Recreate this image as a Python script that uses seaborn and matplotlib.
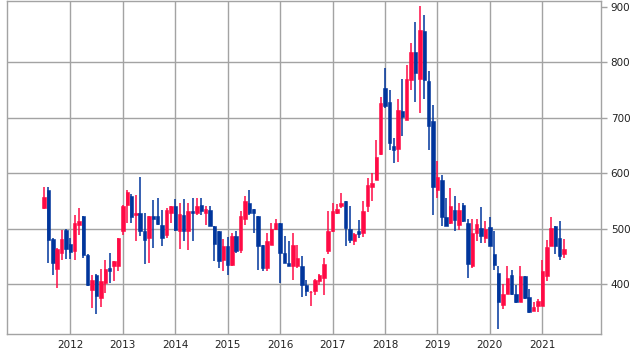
import matplotlib
matplotlib.use("Agg")
import matplotlib.pyplot as plt
import matplotlib.dates as mdates
import numpy as np
import pandas as pd
import seaborn as sns

# ---- data (monthly candles, Jul 2011 .. Jun 2021) ----
start_month = "2011-07-01"
n_months = 120

opens = [537, 570, 481, 427, 457, 498, 472, 459, 507, 522, 453, 390,
         417, 375, 402, 430, 432, 433, 496, 543, 558, 525, 528, 496,
         484, 522, 522, 507, 489, 529, 541, 496, 525, 495, 531, 528,
         543, 528, 534, 504, 495, 444, 469, 435, 487, 462, 517, 547,
         535, 522, 471, 429, 471, 499, 510, 457, 438, 432, 432, 432,
         399, 385, 388, 406, 412, 459, 496, 529, 540, 550, 499, 478,
         495, 492, 541, 576, 588, 635, 753, 729, 649, 644, 712, 696,
         768, 819, 770, 856, 767, 694, 570, 588, 521, 511, 534, 507,
         543, 511, 433, 493, 501, 483, 503, 454, 420, 363, 382, 417,
         382, 368, 414, 377, 352, 360, 361, 415, 469, 504, 483, 454]
highs = [576, 576, 483, 465, 498, 499, 483, 525, 537, 522, 454, 417,
         418, 427, 444, 457, 441, 483, 543, 570, 563, 561, 593, 528,
         522, 552, 555, 534, 537, 541, 553, 547, 553, 546, 555, 556,
         555, 541, 540, 504, 495, 481, 485, 492, 495, 531, 558, 569,
         535, 522, 471, 492, 510, 517, 510, 487, 477, 492, 471, 450,
         408, 387, 409, 418, 448, 532, 546, 545, 565, 550, 540, 492,
         516, 549, 591, 600, 659, 738, 789, 750, 664, 733, 769, 795,
         834, 873, 901, 885, 784, 723, 622, 597, 555, 573, 559, 546,
         546, 517, 517, 517, 539, 513, 521, 495, 432, 400, 433, 426,
         399, 433, 415, 391, 368, 373, 444, 480, 521, 504, 513, 481]
lows = [535, 439, 417, 393, 444, 445, 445, 444, 489, 447, 397, 357,
        346, 359, 384, 403, 405, 423, 489, 510, 510, 478, 487, 436,
        438, 465, 507, 468, 483, 511, 495, 463, 478, 462, 478, 525,
        525, 507, 504, 442, 429, 424, 417, 433, 456, 456, 507, 525,
        492, 426, 424, 424, 471, 498, 403, 438, 432, 408, 429, 377,
        378, 361, 381, 399, 381, 454, 494, 527, 537, 469, 474, 471,
        483, 485, 530, 550, 588, 633, 718, 642, 619, 621, 667, 695,
        750, 729, 708, 733, 642, 525, 555, 504, 505, 508, 495, 498,
        512, 412, 430, 477, 475, 474, 469, 426, 319, 355, 382, 381,
        366, 368, 373, 348, 352, 349, 361, 406, 469, 454, 444, 448]
closes = [557, 480, 438, 463, 481, 463, 458, 511, 513, 453, 399, 408,
          379, 405, 427, 424, 441, 483, 540, 566, 521, 529, 496, 480,
          522, 518, 508, 484, 534, 541, 498, 527, 496, 531, 528, 541,
          532, 536, 504, 472, 441, 469, 435, 486, 460, 523, 550, 528,
          528, 468, 430, 477, 499, 510, 456, 438, 432, 471, 448, 399,
          387, 386, 408, 417, 436, 495, 532, 536, 547, 502, 480, 490,
          490, 532, 579, 583, 630, 727, 721, 655, 642, 714, 702, 769,
          819, 781, 858, 768, 685, 576, 593, 521, 505, 541, 516, 534,
          513, 436, 493, 509, 486, 499, 469, 435, 368, 382, 411, 382,
          367, 415, 375, 349, 358, 370, 424, 467, 501, 469, 451, 463]
y_ticks = [400, 500, 600, 700, 800, 900]
year_ticks = list(range(2012, 2022))

UP = "#ff0a45"
DOWN = "#00359c"
GRID = "#a3a3a3"

df = pd.DataFrame({
    "date": pd.date_range(start_month, periods=n_months, freq="MS"),
    "open": opens, "high": highs, "low": lows, "close": closes,
})
df["up"] = df["close"] >= df["open"]
df["color"] = np.where(df["up"], UP, DOWN)
df["bottom"] = df[["open", "close"]].min(axis=1)
df["height"] = (df["close"] - df["open"]).abs()

sns.set_theme(style="white")
plt.rcParams["font.family"] = ["DejaVu Sans"]

fig = plt.figure(figsize=(6.32, 3.5), dpi=100)
ax = fig.add_axes([7 / 632, 16 / 350, 594 / 632, 333 / 350])

# wicks
ax.vlines(df["date"], df["low"], df["high"], colors=df["color"], linewidth=1.1, zorder=3)
# bodies
ax.bar(df["date"], df["height"], bottom=df["bottom"], width=24,
       color=df["color"], edgecolor=df["color"], linewidth=0.4, zorder=4)

ax.set_xlim(pd.Timestamp("2010-10-17"), pd.Timestamp("2022-02-13"))
ax.set_ylim(310.2, 910.3)

ax.set_yticks(y_ticks)
ax.set_yticklabels([str(v) for v in y_ticks])
ax.yaxis.tick_right()
ax.set_xticks([pd.Timestamp(f"{y}-01-01") for y in year_ticks])
ax.set_xticklabels([str(y) for y in year_ticks])

ax.grid(True, color=GRID, linewidth=1.0, zorder=0)
ax.set_axisbelow(True)
ax.get_ygridlines()[-1].set_visible(False)

ax.tick_params(axis="x", length=0, pad=4, labelsize=7.5, labelcolor="#222222")
ax.tick_params(axis="y", length=4, width=1, color=GRID, pad=3,
               labelsize=7.5, labelcolor="#222222", right=True, left=False)
for s in ax.spines.values():
    s.set_color(GRID)
    s.set_linewidth(1.0)
ax.set_xlabel("")
ax.set_ylabel("")

fig.savefig("out.png", dpi=100)
